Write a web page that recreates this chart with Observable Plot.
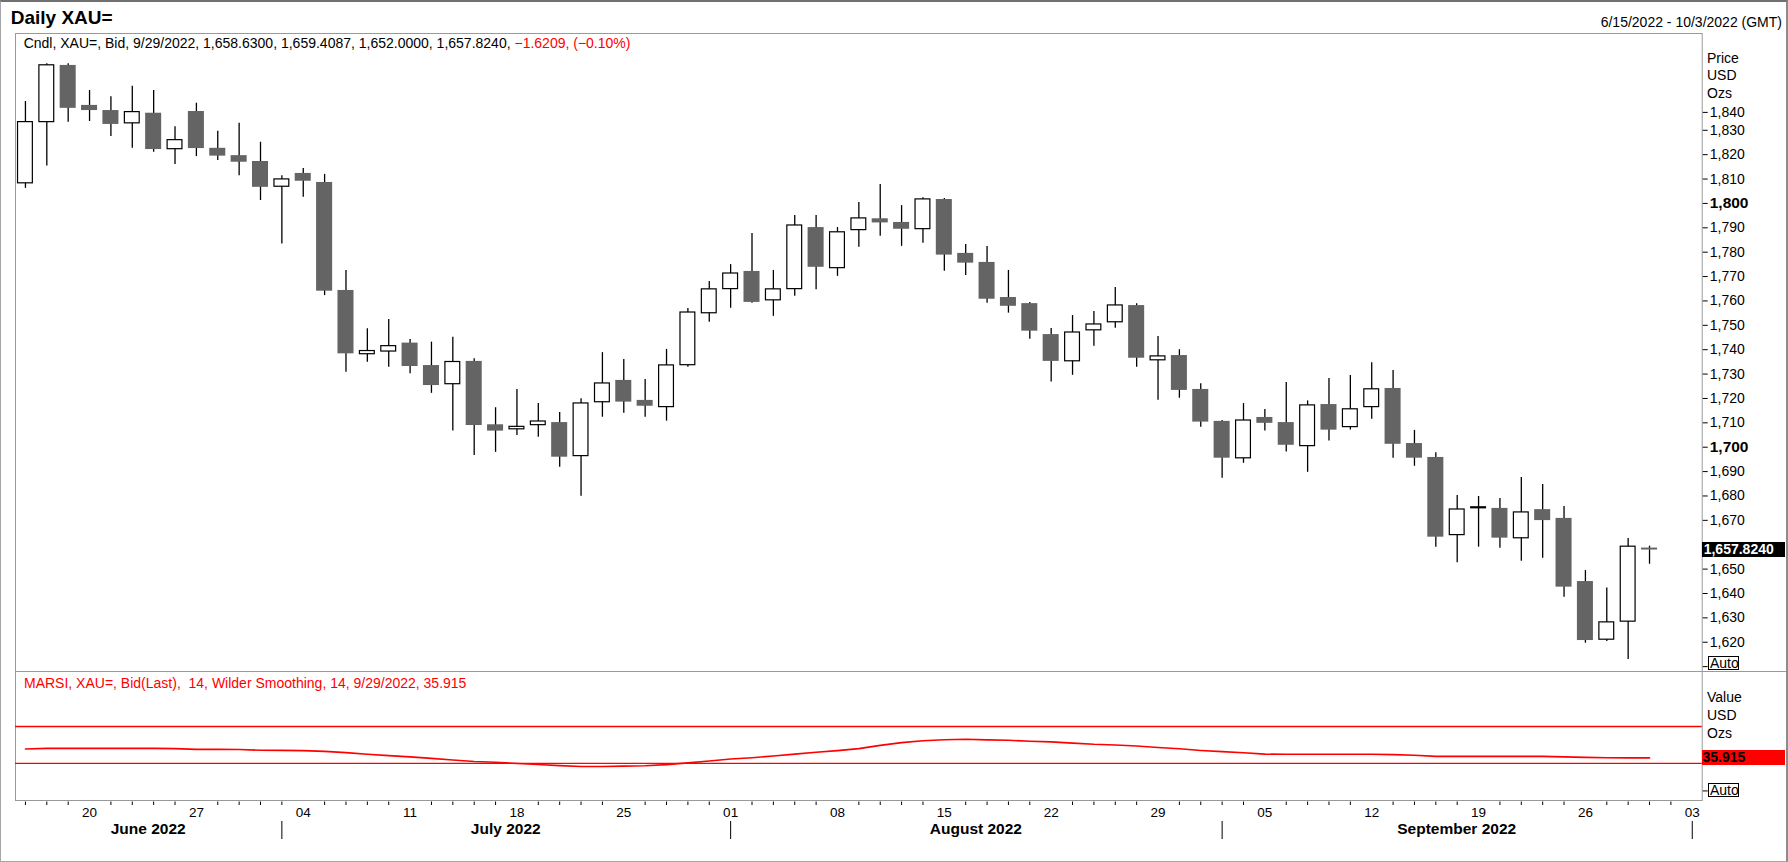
<!DOCTYPE html>
<html><head><meta charset="utf-8">
<script src="https://cdn.jsdelivr.net/npm/d3@7"></script>
<script src="https://cdn.jsdelivr.net/npm/@observablehq/plot@0.6"></script>
<style>
html,body{margin:0;padding:0;background:#fff;}
#chart{position:relative;width:1788px;height:862px;overflow:hidden;background:#fff;font-family:"Liberation Sans",Arial,sans-serif;color:#000;}
#chart svg{position:absolute;left:0;overflow:visible;}
.lbl{position:absolute;white-space:pre;line-height:1;transform:translateY(-50%);font-size:14px;}
.box{position:absolute;box-sizing:border-box;white-space:pre;font-size:14px;}
</style></head><body><div id="chart"></div>
<script>
// ---------------- data ----------------
const dates = [
 "2022-06-15","2022-06-16","2022-06-17","2022-06-20","2022-06-21","2022-06-22","2022-06-23","2022-06-24","2022-06-27","2022-06-28","2022-06-29","2022-06-30",
 "2022-07-01","2022-07-04","2022-07-05","2022-07-06","2022-07-07","2022-07-08","2022-07-11","2022-07-12","2022-07-13","2022-07-14","2022-07-15","2022-07-18","2022-07-19","2022-07-20","2022-07-21","2022-07-22","2022-07-25","2022-07-26","2022-07-27","2022-07-28","2022-07-29",
 "2022-08-01","2022-08-02","2022-08-03","2022-08-04","2022-08-05","2022-08-08","2022-08-09","2022-08-10","2022-08-11","2022-08-12","2022-08-15","2022-08-16","2022-08-17","2022-08-18","2022-08-19","2022-08-22","2022-08-23","2022-08-24","2022-08-25","2022-08-26","2022-08-29","2022-08-30","2022-08-31",
 "2022-09-01","2022-09-02","2022-09-05","2022-09-06","2022-09-07","2022-09-08","2022-09-09","2022-09-12","2022-09-13","2022-09-14","2022-09-15","2022-09-16","2022-09-19","2022-09-20","2022-09-21","2022-09-22","2022-09-23","2022-09-26","2022-09-27","2022-09-28","2022-09-29","2022-09-30",
 "2022-10-03"
];
const open = [1808.0,1833.1,1856.6,1840.2,1838.1,1832.6,1837.0,1822.0,1837.7,1822.6,1819.6,1817.2,
 1806.6,1812.3,1808.6,1764.3,1737.9,1739.0,1742.7,1733.5,1725.6,1735.2,1709.2,1707.1,1708.8,1710.1,1696.1,1718.2,1727.4,1719.2,1716.2,1733.4,1754.7,
 1764.6,1772.1,1760.0,1764.6,1790.1,1773.2,1788.8,1793.7,1792.2,1789.2,1801.6,1779.5,1775.8,1761.4,1758.9,1746.2,1735.0,1747.7,1751.0,1758.1,1735.4,1737.6,1723.7,
 1710.6,1695.2,1712.2,1710.1,1700.2,1717.5,1708.0,1716.2,1724.1,1701.5,1695.8,1663.7,1674.7,1674.9,1662.4,1674.4,1670.8,1644.9,1620.8,1628.2,1658.63];
const high = [1841.8,1857.3,1857.3,1846.3,1843.8,1848.1,1846.3,1831.5,1841.1,1829.6,1832.9,1825.1,
 1811.4,1814.3,1811.9,1772.5,1748.6,1752.4,1744.2,1743.1,1745.1,1736.3,1716.2,1723.7,1717.9,1714.2,1719.9,1738.8,1736.0,1727.8,1740.1,1756.9,1768.0,
 1774.9,1787.7,1772.5,1795.0,1795.0,1790.1,1800.4,1807.8,1799.1,1802.3,1802.0,1783.1,1782.3,1772.5,1759.4,1748.7,1754.0,1755.7,1765.5,1758.8,1745.4,1740.0,1726.0,
 1711.0,1717.9,1715.5,1726.5,1719.0,1728.2,1729.4,1734.6,1731.5,1706.9,1697.7,1680.2,1679.8,1679.0,1687.6,1684.7,1675.7,1649.4,1642.2,1662.6,1659.4087];
const low = [1806.2,1815.3,1833.3,1833.6,1827.4,1822.6,1821.0,1816.0,1819.2,1817.6,1811.4,1801.2,
 1783.4,1802.5,1762.2,1730.8,1734.9,1732.8,1730.1,1722.1,1706.6,1696.6,1697.9,1704.8,1704.1,1691.8,1679.9,1712.3,1713.9,1712.3,1710.7,1732.8,1751.3,
 1757.0,1759.1,1753.7,1761.9,1764.6,1770.1,1782.0,1786.5,1782.4,1783.7,1772.2,1770.4,1759.1,1755.0,1744.3,1726.7,1729.5,1741.4,1748.8,1732.8,1719.3,1720.1,1708.2,
 1687.3,1693.4,1706.6,1698.0,1689.7,1702.5,1707.1,1711.5,1695.5,1692.2,1659.0,1652.6,1659.0,1658.6,1653.2,1654.5,1638.5,1619.6,1620.3,1612.9,1652.0];
const close = [1833.6,1856.9,1839.0,1838.1,1832.4,1837.7,1822.1,1826.2,1822.5,1819.4,1816.9,1806.6,
 1810.1,1809.1,1764.0,1738.3,1739.7,1741.7,1733.1,1725.3,1735.2,1708.9,1706.6,1708.6,1710.8,1695.9,1718.2,1726.4,1718.5,1716.8,1733.8,1755.5,1765.0,
 1771.5,1759.4,1765.0,1791.2,1773.8,1788.4,1794.1,1792.0,1789.4,1801.9,1778.8,1775.5,1760.7,1757.8,1747.6,1735.2,1747.3,1750.6,1758.4,1736.5,1737.5,1723.3,1710.3,
 1695.5,1711.2,1709.8,1700.8,1717.4,1707.0,1715.8,1724.0,1701.2,1695.5,1663.1,1674.7,1675.6,1662.7,1673.5,1669.9,1642.6,1620.7,1628.4,1659.4449,1657.824];
const rsi = [45.5,46.3,46.3,46.3,46.3,46.3,46.3,46.0,45.2,45.2,45.0,44.2,
 44.1,43.8,43.0,41.6,39.8,38.4,37.0,35.4,33.6,32.0,31.2,29.8,28.8,27.5,26.6,26.6,27.0,27.4,28.6,30.5,32.5,
 34.7,36.1,38.0,40.0,42.0,43.8,46.0,49.5,52.5,54.5,55.6,56.2,55.5,55.0,54.0,53.3,52.0,50.7,50.0,48.8,47.2,45.8,44.0,
 42.7,41.5,40.0,39.8,39.8,39.8,39.8,39.8,39.5,38.7,37.6,37.6,37.6,37.6,37.6,37.6,37.0,36.5,36.0,35.9,35.915];
const priceTicks = [1610,1620,1630,1640,1650,1670,1680,1690,1710,1720,1730,1740,1750,1760,1770,1780,1790,1810,1820,1830];
const topTick = [1840];
const boldTicks = [1700,1800];
const rsiLevels = [70,30];
const rsiAutoTick = [0];
const dayTicks = ["2022-06-20","2022-06-27","2022-07-04","2022-07-11","2022-07-18","2022-07-25","2022-08-01","2022-08-08","2022-08-15","2022-08-22","2022-08-29","2022-09-05","2022-09-12","2022-09-19","2022-09-26","2022-10-03"];
const monthNames = ["June 2022","July 2022","August 2022","September 2022"];
const monthStarts = ["2022-07-01","2022-08-01","2022-09-01","2022-10-03"];

// ---------------- layout ----------------
const FONT = '"Liberation Sans", Arial, sans-serif';
const W = 1788, ML = 15, MR = 86.3;
const TOP1 = 33, H1 = 638, TOP2 = 671, H2 = 191, MB2 = 62;
const chart = document.getElementById("chart");
const xOpts = {type: "band", domain: dates, paddingInner: 0.25, paddingOuter: 0.09, round: false, axis: null};

const candles = close.map((c, i) => ({date: dates[i], open: open[i], high: high[i], low: low[i], close: c, up: c >= open[i]}));
const fmtP = d3.format(",");

const p1 = Plot.plot({
  width: W, height: H1, marginLeft: ML, marginRight: MR, marginTop: 0, marginBottom: 0,
  style: {fontFamily: FONT, fontSize: "14px", color: "#000", background: "transparent"},
  x: xOpts,
  y: {domain: [1608.0, 1869.7]},
  marks: [
    Plot.frame({stroke: "#9a9a9a"}),
    Plot.ruleX(candles, {x: "date", y1: "low", y2: "high", stroke: "#000", strokeWidth: 1.3}),
    Plot.barY(candles.filter(d => !d.up), {x: "date", y1: "open", y2: "close", fill: "#646464"}),
    Plot.barY(candles.filter(d => d.up), {x: "date", y1: "open", y2: "close", fill: "#fff", stroke: "#000", strokeWidth: 1.2, inset: 0.6}),
    Plot.axisY(priceTicks, {anchor: "right", label: null, tickSize: 5, tickPadding: 2.5, fontSize: 14, tickFormat: d => d === 1610 ? "" : fmtP(d)}),
    Plot.axisY(topTick, {anchor: "right", label: null, tickSize: 5, tickPadding: 2.5, fontSize: 14, tickFormat: fmtP, dy: 6.5}),
    Plot.axisY(boldTicks, {anchor: "right", label: null, tickSize: 5, tickPadding: 2.5, fontSize: 15.5, fontWeight: "bold", tickFormat: fmtP})
  ]
});
p1.style.top = TOP1 + "px";
chart.appendChild(p1);

const rsiData = rsi.map((v, i) => ({date: dates[i], v}));
const labeled = new Set(dayTicks);
const minorTicks = dates.filter(d => !labeled.has(d));

const p2 = Plot.plot({
  width: W, height: H2, marginLeft: ML, marginRight: MR, marginTop: 0, marginBottom: MB2,
  style: {fontFamily: FONT, fontSize: "14px", color: "#000", background: "transparent"},
  x: xOpts,
  y: {domain: [-10.4, 129.8]},
  marks: [
    Plot.frame({stroke: "#9a9a9a"}),
    Plot.ruleY(rsiLevels, {stroke: "#ff0000", strokeWidth: 1.3}),
    Plot.line(rsiData, {x: "date", y: "v", stroke: "#ff0000", strokeWidth: 1.6}),
    Plot.axisY(rsiAutoTick, {anchor: "right", label: null, tickSize: 5, tickFormat: () => ""}),
    Plot.ruleX(minorTicks, {x: d => d, insetTop: H2 - MB2 + 1.5, insetBottom: -5, stroke: "#000", strokeWidth: 1}),
    Plot.text(dayTicks, {x: d => d, text: d => d.slice(8), frameAnchor: "bottom", dy: 12.4, lineAnchor: "middle", fontSize: 13.5}),
    Plot.ruleX(monthStarts, {x: d => d, insetTop: H2 - MB2 + 21, insetBottom: -39, stroke: "#000", strokeWidth: 1})
  ]
});
p2.style.top = TOP2 + "px";
chart.appendChild(p2);

// month labels centred in each month's span, placed with Plot's x scale
const xs = p2.scale("x");
const cx = d => xs.apply(d) + xs.bandwidth / 2;
const bounds = [ML, ...monthStarts.map(cx)];
const g = d3.select(p2).append("g").attr("font-family", FONT).attr("font-weight", "bold").attr("font-size", 15.5).attr("text-anchor", "middle");
monthNames.forEach((m, k) => {
  g.append("text").attr("x", (bounds[k] + bounds[k + 1]) / 2).attr("y", 158).attr("dy", "0.35em").text(m);
});

// ---------------- text overlays ----------------
function label(txt, x, y, css = "") {
  const el = document.createElement("div");
  el.className = "lbl";
  el.style.cssText += `left:${x}px;top:${y}px;` + css;
  el.textContent = txt;
  chart.appendChild(el);
  return el;
}
const parse = d3.utcParse("%Y-%m-%d"), fmtD = d3.utcFormat("%-m/%-d/%Y");
const last = close.length - 1;
const f4 = d3.format(",.4f");
const chg = close[last] - close[last - 1];

label("Daily XAU=", 10.7, 16.7, "font-weight:bold;font-size:19px;");
label(`${fmtD(parse(dates[0]))} - ${fmtD(parse(dates[dates.length - 1]))} (GMT)`, 1782, 21.7, "transform:translate(-100%,-50%);");

const hdr = label("", 23.7, 43.3);
hdr.textContent = `Cndl, XAU=, Bid, ${fmtD(parse(dates[last]))}, ${f4(open[last])}, ${f4(high[last])}, ${f4(low[last])}, ${f4(close[last])}, `;
const red = document.createElement("span");
red.style.color = "#ff0000";
red.textContent = `${d3.format(".4f")(chg)}, (${d3.format(".2%")(chg / close[last - 1])})`;
hdr.appendChild(red);

["Price", "USD", "Ozs"].forEach((t, k) => label(t, 1707, 57.5 + k * 17.8));
["Value", "USD", "Ozs"].forEach((t, k) => label(t, 1707, 696.8 + k * 18.1));

label(`MARSI, XAU=, Bid(Last),  14, Wilder Smoothing, 14, ${fmtD(parse(dates[last]))}, ${d3.format(".3f")(rsi[last])}`, 24, 683, "color:#ff0000;");

function box(txt, x, yc, w, h, css) {
  const el = document.createElement("div");
  el.className = "box";
  el.style.cssText += `left:${x}px;top:${yc - h / 2}px;width:${w}px;height:${h}px;line-height:${h}px;` + css;
  el.textContent = txt;
  chart.appendChild(el);
}
const y1 = p1.scale("y"), y2 = p2.scale("y");
box(f4(close[last]), 1701.7, TOP1 + y1.apply(close[last]), 83.3, 15, "background:#000;color:#fff;font-weight:bold;padding-left:2px;");
box(d3.format(".3f")(rsi[last]), 1701.5, TOP2 + y2.apply(rsi[last]), 83, 15.4, "background:#ff0000;color:#000;font-weight:bold;padding-left:1px;");
box("Auto", 1708, TOP1 + y1.apply(1610) - 3, 30.5, 14, "border:1px solid #000;line-height:12px;padding-left:1px;background:#fff;");
box("Auto", 1708, TOP2 + y2.apply(0), 30.5, 14, "border:1px solid #000;line-height:12px;padding-left:1px;background:#fff;");

// separator extension and outer border
const sep = document.createElement("div");
sep.style.cssText = "position:absolute;left:1701.7px;top:670.5px;width:90px;height:1px;background:#9a9a9a;";
chart.appendChild(sep);
const border = document.createElement("div");
border.style.cssText = "position:absolute;left:0;top:0;width:1788px;height:862px;box-sizing:border-box;border:1px solid #a6a6a6;border-top:2px solid #707070;border-right:2px solid #8c8c8c;pointer-events:none;";
chart.appendChild(border);
</script></body></html>
